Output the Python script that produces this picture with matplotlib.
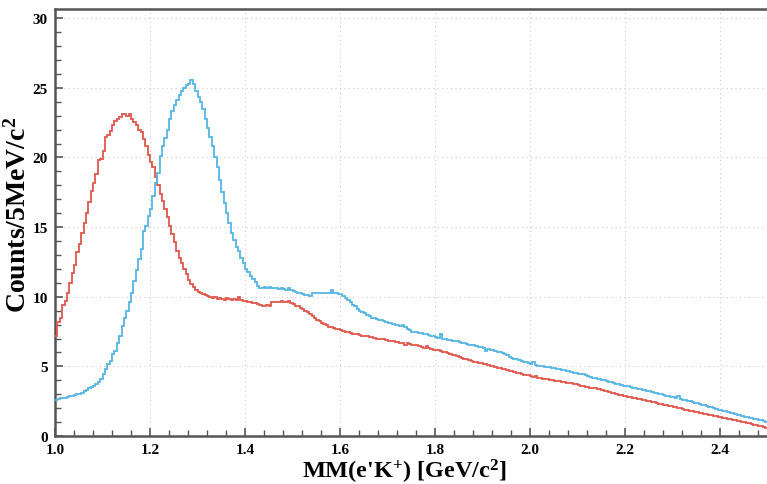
import numpy as np
import matplotlib
matplotlib.use("Agg")
import matplotlib.pyplot as plt
from matplotlib.ticker import AutoMinorLocator

# ---------------- data ----------------
x_start = 1.0
bin_width = 0.005  # 5 MeV bins

red_counts = [
    7.2, 8.2, 8.5, 9.4, 9.7, 10.3, 11.0, 11.7, 12.3, 13.2,
    13.8, 14.6, 15.3, 16.0, 16.8, 17.6, 18.2, 18.8, 19.8, 19.9,
    20.5, 21.5, 21.6, 21.9, 22.3, 22.6, 22.75, 22.9, 23.1, 23.1,
    23.0, 23.15, 22.75, 22.55, 22.3, 22.0, 21.8, 21.3, 20.8, 20.2,
    19.7, 19.3, 18.6, 18.0, 17.4, 16.9, 16.3, 15.7, 15.1, 14.5,
    13.9, 13.3, 12.8, 12.4, 12.0, 11.6, 11.2, 10.9, 10.7, 10.5,
    10.35, 10.25, 10.2, 10.1, 10.05, 9.95, 9.9, 9.95, 9.85, 9.9,
    9.85, 9.8, 9.9, 9.85, 9.8, 9.85, 9.8, 9.95, 9.75, 9.7,
    9.7, 9.65, 9.6, 9.55, 9.55, 9.5, 9.4, 9.35, 9.3, 9.4,
    9.35, 9.6, 9.65, 9.65, 9.6, 9.7, 9.65, 9.6, 9.7, 9.55,
    9.5, 9.35, 9.3, 9.2, 9.15, 9.0, 8.9, 8.75, 8.6, 8.5,
    8.35, 8.25, 8.1, 8.05, 7.95, 7.85, 7.8, 7.75, 7.7, 7.65,
    7.6, 7.55, 7.5, 7.5, 7.4, 7.35, 7.35, 7.3, 7.25, 7.2,
    7.2, 7.15, 7.1, 7.1, 7.05, 7.0, 7.0, 6.95, 6.95, 6.9,
    6.85, 6.85, 6.8, 6.75, 6.75, 6.7, 6.65, 6.5, 6.7, 6.6,
    6.55, 6.5, 6.5, 6.45, 6.4, 6.35, 6.45, 6.3, 6.25, 6.2,
    6.2, 6.15, 6.1, 6.05, 6.0, 5.95, 5.9, 5.85, 5.8, 5.75,
    5.65, 5.6, 5.55, 5.5, 5.45, 5.4, 5.35, 5.3, 5.25, 5.25,
    5.2, 5.15, 5.1, 5.05, 5.0, 4.95, 4.9, 4.85, 4.8, 4.8,
    4.75, 4.7, 4.65, 4.6, 4.55, 4.5, 4.45, 4.4, 4.35, 4.35,
    4.3, 4.25, 4.28, 4.2, 4.15, 4.12, 4.1, 4.08, 4.05, 4.0,
    3.97, 3.95, 3.92, 3.9, 3.85, 3.82, 3.78, 3.8, 3.72, 3.7,
    3.66, 3.62, 3.6, 3.55, 3.52, 3.48, 3.45, 3.42, 3.38, 3.35,
    3.3, 3.25, 3.2, 3.15, 3.1, 3.07, 3.02, 2.98, 2.94, 2.9,
    2.87, 2.83, 2.8, 2.75, 2.72, 2.68, 2.64, 2.6, 2.57, 2.53,
    2.5, 2.45, 2.42, 2.38, 2.33, 2.3, 2.25, 2.22, 2.18, 2.14,
    2.1, 2.06, 2.02, 1.98, 1.93, 1.9, 1.85, 1.82, 1.78, 1.75,
    1.71, 1.68, 1.64, 1.6, 1.57, 1.53, 1.5, 1.46, 1.42, 1.38,
    1.34, 1.3, 1.27, 1.23, 1.2, 1.16, 1.12, 1.08, 1.05, 1.0,
    0.97, 0.93, 0.9, 0.86, 0.82, 0.78, 0.74, 0.7, 0.66, 0.6,
]

blue_counts = [
    2.55, 2.65, 2.7, 2.7, 2.75, 2.8, 2.85, 2.9, 2.95, 3.0,
    3.05, 3.1, 3.2, 3.3, 3.45, 3.55, 3.6, 3.7, 3.85, 4.1,
    4.45, 4.8, 5.2, 5.4, 5.9, 6.1, 6.7, 7.2, 7.9, 8.5,
    9.0, 9.6, 10.3, 11.15, 11.9, 12.7, 13.4, 14.7, 15.1, 15.8,
    16.3, 17.2, 18.2, 18.9, 20.1, 20.8, 21.4, 22.0, 22.75, 23.35,
    23.8, 24.1, 24.5, 24.8, 25.0, 25.2, 25.25, 25.55, 25.25, 24.8,
    24.35, 24.0, 23.5, 22.8, 22.1, 21.5, 20.8, 20.0, 19.3, 18.4,
    17.5, 16.7, 16.0, 15.3, 14.6, 14.1, 13.6, 13.3, 12.8, 12.4,
    12.0, 11.75, 11.5, 11.3, 11.05, 10.8, 10.6, 10.65, 10.7, 10.65,
    10.7, 10.6, 10.65, 10.6, 10.55, 10.6, 10.55, 10.5, 10.6, 10.45,
    10.4, 10.35, 10.3, 10.25, 10.2, 10.15, 10.1, 10.05, 10.3, 10.25,
    10.3, 10.25, 10.3, 10.25, 10.3, 10.25, 10.45, 10.3, 10.25, 10.2,
    10.2, 10.05, 9.9, 9.75, 9.6, 9.4, 9.3, 9.1, 9.0, 8.9,
    8.8, 8.7, 8.6, 8.5, 8.45, 8.4, 8.35, 8.3, 8.25, 8.2,
    8.15, 8.1, 8.05, 8.0, 7.95, 7.9, 7.95, 7.8, 7.7, 7.6,
    7.5, 7.45, 7.45, 7.4, 7.4, 7.35, 7.3, 7.25, 7.2, 7.15,
    7.1, 7.05, 7.3, 7.0, 6.95, 6.9, 6.9, 6.85, 6.8, 6.8,
    6.75, 6.7, 6.65, 6.6, 6.55, 6.5, 6.5, 6.45, 6.4, 6.4,
    6.35, 6.1, 6.25, 6.2, 6.15, 6.1, 6.05, 6.0, 5.95, 5.9,
    5.8, 5.7, 5.6, 5.55, 5.5, 5.45, 5.4, 5.35, 5.3, 5.25,
    5.2, 5.35, 5.1, 5.05, 5.0, 5.0, 4.97, 4.95, 4.92, 4.9,
    4.85, 4.82, 4.8, 4.76, 4.72, 4.68, 4.65, 4.6, 4.56, 4.52,
    4.48, 4.45, 4.42, 4.38, 4.33, 4.25, 4.2, 4.15, 4.12, 4.08,
    4.05, 4.0, 3.95, 3.9, 3.85, 3.8, 3.75, 3.7, 3.66, 3.62,
    3.6, 3.56, 3.52, 3.48, 3.44, 3.4, 3.36, 3.32, 3.28, 3.24,
    3.2, 3.16, 3.12, 3.08, 3.04, 3.0, 2.95, 2.9, 2.86, 2.82,
    2.78, 2.74, 2.85, 2.66, 2.62, 2.58, 2.53, 2.48, 2.44, 2.4,
    2.35, 2.3, 2.25, 2.2, 2.15, 2.1, 2.05, 2.0, 1.95, 1.9,
    1.85, 1.8, 1.76, 1.72, 1.67, 1.62, 1.58, 1.53, 1.49, 1.45,
    1.4, 1.36, 1.32, 1.28, 1.24, 1.2, 1.16, 1.12, 1.08, 1.02,
]

x_ticks = [1.0, 1.2, 1.4, 1.6, 1.8, 2.0, 2.2, 2.4]
x_tick_labels = ["1.0", "1.2", "1.4", "1.6", "1.8", "2.0", "2.2", "2.4"]
y_ticks = [0, 5, 10, 15, 20, 25, 30]
y_tick_labels = ["0", "5", "10", "15", "20", "25", "30"]
x_label = "MM(e'K$^{+}$) [GeV/c$^{2}$]"
y_label = "Counts/5MeV/c$^{2}$"

red_color = "#E0574C"
blue_color = "#55B5E5"

# ---------------- style ----------------
plt.rcParams['font.family'] = ['Liberation Serif', 'DejaVu Serif']
plt.rcParams['font.weight'] = 'bold'
plt.rcParams['mathtext.fontset'] = 'custom'
plt.rcParams['mathtext.rm'] = 'Liberation Serif:bold'
plt.rcParams['mathtext.it'] = 'Liberation Serif:bold'
plt.rcParams['mathtext.bf'] = 'Liberation Serif:bold'

W, H = 767, 485
fig = plt.figure(figsize=(W / 100, H / 100), dpi=100)
left_px, right_px, top_px, bottom_px = 55, 767.5, 9.5, 437
ax = fig.add_axes([left_px / W, 1 - bottom_px / H,
                   (right_px - left_px) / W, (bottom_px - top_px) / H])

n_bins = len(red_counts)
edges = x_start + bin_width * np.arange(n_bins + 1)
ax.stairs(red_counts, edges, color=red_color, lw=1.3, baseline=None, zorder=3)
ax.stairs(blue_counts, edges, color=blue_color, lw=1.3, baseline=None, zorder=3)

ax.set_xlim(edges[0], edges[-1])
ax.set_ylim(0, 30.7)

ax.set_xticks(x_ticks)
ax.set_xticklabels(x_tick_labels)
ax.set_yticks(y_ticks)
ax.set_yticklabels(y_tick_labels)
ax.xaxis.set_minor_locator(AutoMinorLocator(5))
ax.yaxis.set_minor_locator(AutoMinorLocator(5))

ax.tick_params(which='both', direction='in', color='#555555',
               top=False, right=False)
ax.tick_params(which='major', length=6, width=1.2, labelsize=11, pad=5)
ax.tick_params(which='minor', length=4, width=1.0)
for lab in ax.get_xticklabels() + ax.get_yticklabels():
    lab.set_fontweight('bold')

ax.grid(True, which='major', linestyle=(0, (1, 3)), color='#cccccc', lw=0.8, zorder=0)

for side in ['left', 'bottom', 'top', 'right']:
    ax.spines[side].set_color('#555555')
    ax.spines[side].set_linewidth(1.8)

ax.set_xlabel(x_label, fontsize=17.5, fontweight='bold')
ax.set_ylabel(y_label, fontsize=20, fontweight='bold')
ax.xaxis.set_label_coords(0.49, -0.049)
ax.yaxis.set_label_coords(-0.033, 0.52)

fig.savefig("out.png", dpi=100)
